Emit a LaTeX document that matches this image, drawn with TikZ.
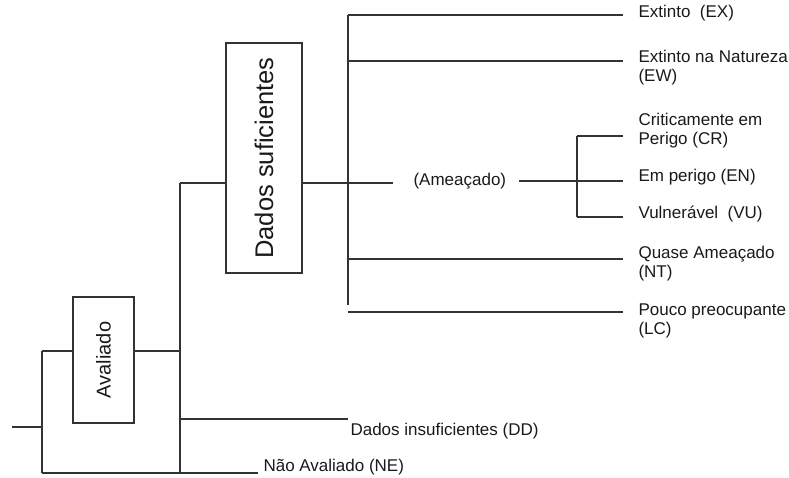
\documentclass[tikz,border=0pt]{standalone}
\usepackage{fontspec}
\setmainfont{Liberation Sans}
\usepackage{tikz}

\begin{document}
\begin{tikzpicture}[x=1pt,y=-1pt,line width=1.1pt,color=black!80,line cap=butt,
  font=\fontsize{17}{19}\selectfont,
  lbl/.style={anchor=west,inner sep=0pt,align=left,text=black!90},
  catbox/.style={draw,inner sep=0pt,text=black!90}]
\useasboundingbox (0,0) rectangle (789,477);
% caixas
\node[catbox,minimum width=61pt,minimum height=126pt] (av) at (103.5,360) {\rotatebox{90}{\fontsize{20}{22}\selectfont Avaliado}};
\node[catbox,minimum width=76pt,minimum height=230pt] (ds) at (264,158) {\rotatebox{90}{\fontsize{25.5}{28}\selectfont Dados suficientes}};
% pontos de ramificacao
\coordinate (root) at (12,427);
\coordinate (j0t) at (42,351);
\coordinate (j0b) at (42,473);
\coordinate (j1t) at (180,183);
\coordinate (j1m) at (180,351);
\coordinate (j1d) at (180,419);
\coordinate (j1b) at (180,473);
\coordinate (j2t) at (348,15);
\coordinate (j2w) at (348,61);
\coordinate (j2n) at (348,259);
\coordinate (j2b) at (348,305);
\coordinate (j2l) at (348,312);
\coordinate (j3t) at (577,136);
\coordinate (j3b) at (577,217);
% rotulos
\node[lbl] (ex) at (638,13) {Extinto~ (EX)};
\node[lbl] (ew) at (638,68) {Extinto na Natureza\\(EW)};
\node[lbl] (cr) at (638,130.5) {Criticamente em\\Perigo (CR)};
\node[lbl] (en) at (638,177) {Em perigo (EN)};
\node[lbl] (vu) at (638,214) {Vulnerável~ (VU)};
\node[lbl] (nt) at (638,263.5) {Quase Ameaçado\\(NT)};
\node[lbl] (lc) at (638,320.5) {Pouco preocupante\\(LC)};
\node[lbl] (am) at (413,181) {(Ameaçado)};
\node[lbl] (dd) at (350,431) {Dados insuficientes (DD)};
\node[lbl] (ne) at (263,467) {Não Avaliado (NE)};
% ligacoes
\draw (root) -- (root -| j0t);
\draw (j0t) -- (j0b);
\draw (j0t) -- (av.west |- j0t);
\draw (av.east |- j0t) -- (j1m);
\draw (j0b) -- ([xshift=-5pt]ne.west |- j0b);
\draw (j1t) -- (j1b);
\draw (j1t) -- (ds.west |- j1t);
\draw (j1d) -- ([xshift=-2pt]dd.west |- j1d);
\draw (ds.east |- j1t) -- ([xshift=-20pt]am.west |- j1t);
\draw (j2t) -- (j2b);
\draw (j2t) -- ([xshift=-15pt]ex.west |- j2t);
\draw (j2w) -- ([xshift=-15pt]ew.west |- j2w);
\draw (j2n) -- ([xshift=-15pt]nt.west |- j2n);
\draw (j2l) -- ([xshift=-15pt]lc.west |- j2l);
\draw ([xshift=12pt]am.east) -- ([xshift=-15pt]en.west |- am.east);
\draw (j3t) -- (j3b);
\draw (j3t) -- ([xshift=-15pt]cr.west |- j3t);
\draw (j3b) -- ([xshift=-15pt]vu.west |- j3b);
\end{tikzpicture}
\end{document}
